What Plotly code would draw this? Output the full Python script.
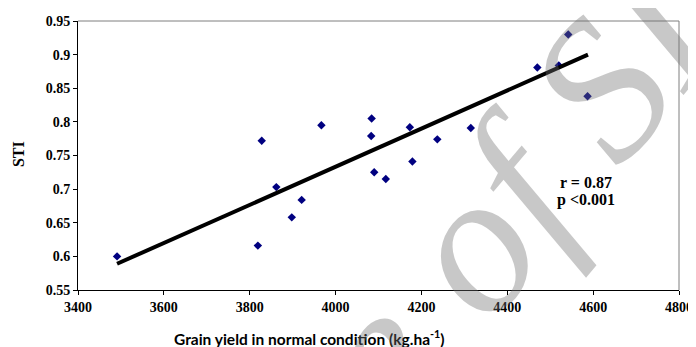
import plotly.graph_objects as go

# Data
grain_yield = [3491, 3819, 3828, 3862, 3898, 3921, 3967, 4084, 4083, 4090,
               4117, 4173, 4179, 4237, 4315, 4470, 4520, 4542, 4587]
sti = [0.600, 0.616, 0.772, 0.703, 0.658, 0.684, 0.795, 0.805, 0.779, 0.725,
       0.715, 0.792, 0.741, 0.774, 0.791, 0.881, 0.884, 0.930, 0.838]

# trend line as drawn in the reference (end points)
trend_x = [3491, 4588]
trend_y = [0.589, 0.900]

x_ticks = [3400, 3600, 3800, 4000, 4200, 4400, 4600, 4800]
y_ticks = [0.55, 0.6, 0.65, 0.7, 0.75, 0.8, 0.85, 0.9, 0.95]
y_tick_labels = ["0.55", "0.6", "0.65", "0.7", "0.75", "0.8", "0.85", "0.9", "0.95"]

stats_lines = ["r = 0.87", "p <0.001"]
watermark = "Archive of SID"

serif = "Liberation Serif, Times New Roman, serif"

fig = go.Figure()
fig.add_trace(go.Scatter(
    x=grain_yield, y=sti, mode="markers",
    marker=dict(symbol="diamond", size=6.5, color="#000080"),
    showlegend=False, hoverinfo="skip"))
fig.add_trace(go.Scatter(
    x=trend_x, y=trend_y, mode="lines",
    line=dict(color="black", width=4),
    showlegend=False, hoverinfo="skip"))

fig.update_layout(
    width=688, height=339,
    margin=dict(l=70, r=17, t=13, b=57, autoexpand=False),
    paper_bgcolor="white", plot_bgcolor="white",
    font=dict(family=serif, color="black"),
)
fig.update_xaxes(
    range=[3400, 4800], tickvals=x_ticks,
    ticktext=["<b>%d</b>" % v for v in x_ticks],
    showgrid=False, zeroline=False, showline=True, linecolor="black", linewidth=1,
    ticks="outside", ticklen=4, tickcolor="black", automargin=False,
    tickfont=dict(family=serif, size=14),
)
fig.update_yaxes(
    range=[0.55, 0.95], tickvals=y_ticks,
    ticktext=["<b>%s</b>" % t for t in y_tick_labels],
    showgrid=False, zeroline=False, showline=True, linecolor="black", linewidth=1,
    ticks="outside", ticklen=4, tickcolor="black", automargin=False,
    tickfont=dict(family=serif, size=14),
)

# gray top/right frame
fig.add_shape(type="line", xref="paper", yref="paper", x0=0, x1=1, y0=1, y1=1,
              line=dict(color="#7f7f7f", width=1))
fig.add_shape(type="line", xref="paper", yref="paper", x0=1, x1=1, y0=0, y1=1,
              line=dict(color="#7f7f7f", width=1))

# axis titles
fig.add_annotation(text="<b>STI</b>", xref="paper", yref="paper",
                   x=-0.1, y=0.505, textangle=-90, showarrow=False,
                   font=dict(family=serif, size=16, color="black"),
                   xanchor="center", yanchor="middle")
fig.add_annotation(text="<b>Grain yield in normal condition (kg.ha<sup>-1</sup>)</b>",
                   xref="paper", yref="paper", x=0.386, y=-0.175,
                   showarrow=False,
                   font=dict(family="Lato, Liberation Sans, sans-serif", size=15.5, color="black"),
                   xanchor="center", yanchor="middle")

# stats
fig.add_annotation(text="<b>%s</b>" % stats_lines[0], xref="paper", yref="paper",
                   x=0.845, y=0.401, showarrow=False,
                   font=dict(family=serif, size=16, color="black"),
                   xanchor="center", yanchor="middle")
fig.add_annotation(text="<b>%s</b>" % stats_lines[1], xref="paper", yref="paper",
                   x=0.845, y=0.335, showarrow=False,
                   font=dict(family=serif, size=16, color="black"),
                   xanchor="center", yanchor="middle")

# watermark
fig.add_annotation(text="<i>%s</i>" % watermark, xref="paper", yref="paper",
                   x=0.51, y=-0.21, textangle=-50, showarrow=False,
                   font=dict(family=serif, size=200, color="rgba(110,110,110,0.38)"),
                   xanchor="center", yanchor="middle")

fig.write_html("out.html")
